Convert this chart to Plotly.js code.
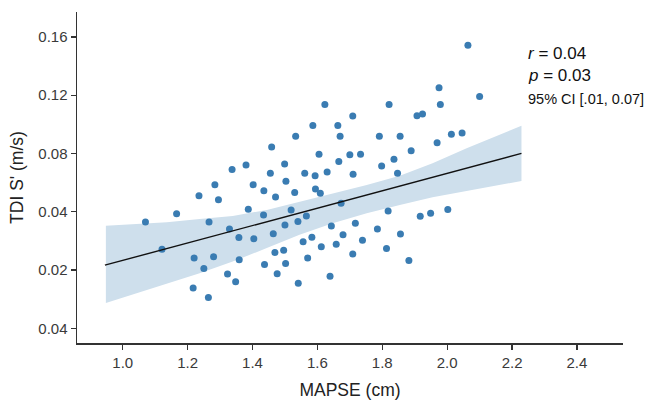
<!DOCTYPE html>
<html>
<head>
<meta charset="utf-8">
<script src="https://cdn.plot.ly/plotly-3.0.1.min.js"></script>
<style>html,body{margin:0;padding:0;background:#fff;}#chart{width:649px;height:401px;}</style>
</head>
<body>
<div id="chart"></div>
<script>
// MAPSE (cm) values of the scatter points
const mapse = [2.064,1.975,2.100,1.623,1.821,1.979,1.709,1.907,1.924,1.586,1.663,1.533,1.670,1.791,1.855,2.013,2.046,1.459,1.969,1.889,1.605,1.700,1.733,1.380,1.337,1.499,1.666,1.836,1.798,1.455,1.561,1.593,1.630,1.710,1.847,1.284,1.402,1.503,1.435,1.530,1.594,1.609,1.471,1.235,1.295,1.166,1.070,1.266,1.121,1.220,1.280,1.250,1.217,1.264,1.387,1.434,1.519,1.566,1.673,1.329,1.500,1.540,1.643,1.717,1.818,1.917,1.949,2.002,1.358,1.404,1.464,1.556,1.583,1.679,1.739,1.785,1.856,1.612,1.658,1.469,1.496,1.570,1.709,1.813,1.882,1.437,1.502,1.323,1.348,1.476,1.541,1.639,1.359];
// TDI S' values (on the chart's linear vertical scale)
const tdi = [0.1543,0.1251,0.1192,0.1137,0.1137,0.1137,0.1057,0.1059,0.1071,0.0993,0.0993,0.0918,0.0918,0.0918,0.0918,0.0932,0.0940,0.0845,0.0874,0.0819,0.0795,0.0792,0.0795,0.0721,0.0690,0.0728,0.0745,0.0761,0.0714,0.0664,0.0664,0.0648,0.0673,0.0658,0.0665,0.0586,0.0586,0.0610,0.0545,0.0532,0.0557,0.0527,0.0502,0.0511,0.0483,0.0386,0.0331,0.0331,0.0144,0.0084,0.0091,0.0011,-0.0123,-0.0188,0.0418,0.0379,0.0413,0.0372,0.0459,0.0283,0.0310,0.0333,0.0303,0.0322,0.0406,0.0370,0.0391,0.0416,0.0224,0.0216,0.0249,0.0194,0.0225,0.0242,0.0205,0.0283,0.0247,0.0160,0.0178,0.0121,0.0137,0.0084,0.0110,0.0149,0.0066,0.0038,0.0045,-0.0027,-0.0079,-0.0025,-0.0090,-0.0042,0.0071];
// regression line
const fitX = [0.945, 2.229];
const fitY = [0.0034, 0.0801];
// confidence band
const bandX = [0.948,1.031,1.136,1.237,1.339,1.444,1.545,1.647,1.752,1.854,1.955,2.060,2.162,2.229];
const bandUpper = [0.0305,0.0315,0.0329,0.0351,0.0372,0.0413,0.0470,0.0527,0.0584,0.0648,0.0733,0.0836,0.0927,0.0990];
const bandLower = [-0.0226,-0.0169,-0.0094,-0.0021,0.0059,0.0151,0.0242,0.0322,0.0390,0.0447,0.0500,0.0545,0.0584,0.0612];
// axis ticks (labels as printed in the original figure)
const xTicks = [1.0,1.2,1.4,1.6,1.8,2.0,2.2,2.4];
const xTickText = ["1.0","1.2","1.4","1.6","1.8","2.0","2.2","2.4"];
const yTicks = [0.16,0.12,0.08,0.04,0.00,-0.04];
const yTickText = ["0.16","0.12","0.08","0.04","0.02","0.04"];
// stats text
const statLines = ["<i>r</i> = 0.04", "<i>p</i> = 0.03", "95% CI [.01, 0.07]"];

const FONT = "Liberation Sans, Arial, sans-serif";

const band = {
  x: bandX.concat(bandX.slice().reverse()),
  y: bandUpper.concat(bandLower.slice().reverse()),
  type: "scatter", mode: "lines", fill: "toself",
  fillcolor: "rgb(206,223,236)", line: {width: 0, color: "rgba(0,0,0,0)"},
  hoverinfo: "skip", showlegend: false
};
const pts = {
  x: mapse, y: tdi, type: "scatter", mode: "markers",
  marker: {size: 7, color: "#3a7cb2", line: {width: 0}},
  showlegend: false
};
const fit = {
  x: fitX, y: fitY, type: "scatter", mode: "lines",
  line: {color: "#111", width: 1.4}, showlegend: false
};

const layout = {
  width: 649, height: 401,
  margin: {l: 77, r: 26, t: 12, b: 58},
  paper_bgcolor: "#fff", plot_bgcolor: "#fff",
  font: {family: FONT, color: "#333"},
  showlegend: false,
  xaxis: {
    range: [0.859, 2.542], tickvals: xTicks, ticktext: xTickText,
    showgrid: false, zeroline: false, showline: true, linecolor: "#333", linewidth: 1.5,
    ticks: "outside", ticklen: 5, tickwidth: 1.3, tickcolor: "#333",
    tickfont: {size: 15, family: FONT, color: "#3a3a3a"},
    title: {text: "MAPSE (cm)", font: {size: 17.5, family: FONT, color: "#222"}, standoff: 14}
  },
  yaxis: {
    range: [-0.0500, 0.1771], tickvals: yTicks, ticktext: yTickText,
    showgrid: false, zeroline: false, showline: true, linecolor: "#333", linewidth: 1.5,
    ticks: "outside", ticklen: 5, tickwidth: 1.3, tickcolor: "#333",
    tickfont: {size: 15, family: FONT, color: "#3a3a3a"},
    title: {text: "TDI S' (m/s)", font: {size: 17.5, family: FONT, color: "#222"}, standoff: 10}
  },
  annotations: [
    {x: 2.242, y: 0.1488, xref: "x", yref: "y", text: statLines[0], showarrow: false, xanchor: "left", yanchor: "middle", font: {size: 17, family: FONT, color: "#111"}},
    {x: 2.242, y: 0.1338, xref: "x", yref: "y", text: statLines[1], showarrow: false, xanchor: "left", yanchor: "middle", font: {size: 17, family: FONT, color: "#111"}},
    {x: 2.242, y: 0.1173, xref: "x", yref: "y", text: statLines[2], showarrow: false, xanchor: "left", yanchor: "middle", font: {size: 14.5, family: FONT, color: "#111"}}
  ]
};

Plotly.newPlot("chart", [band, pts, fit], layout, {displayModeBar: false, staticPlot: true});
</script>
</body>
</html>
